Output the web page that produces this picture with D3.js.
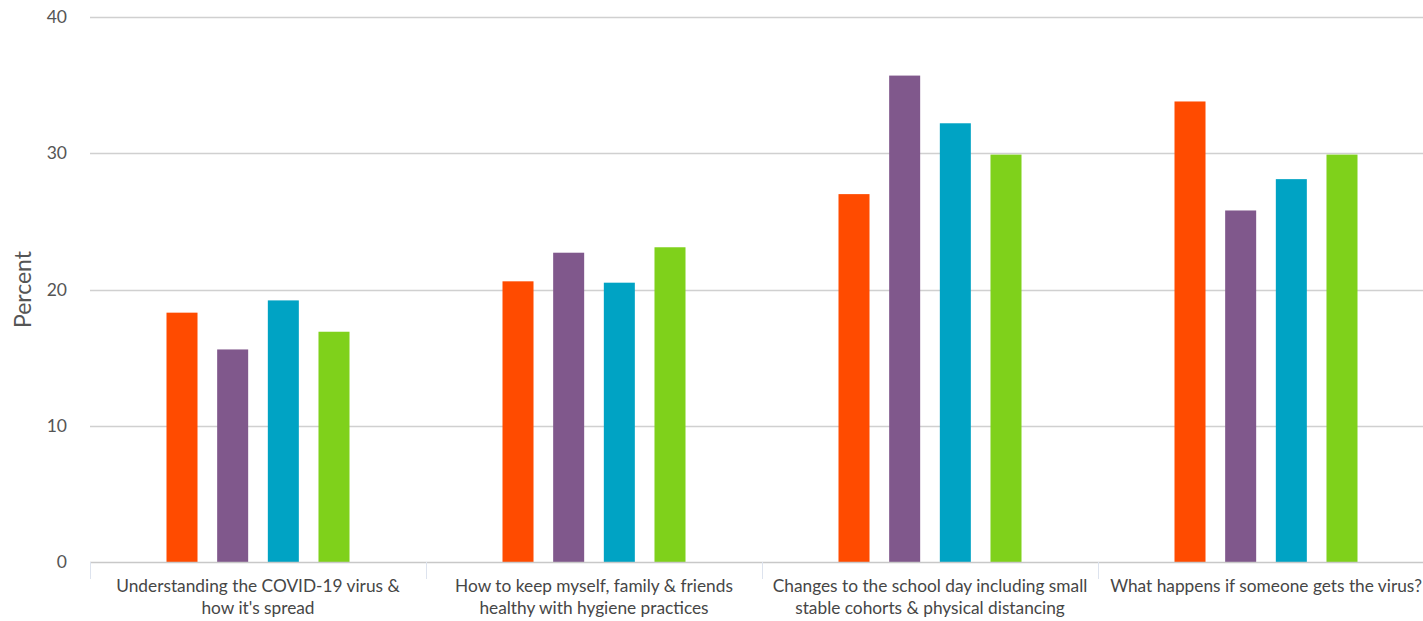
<!DOCTYPE html>
<html>
<head>
<meta charset="utf-8">
<script src="https://cdn.jsdelivr.net/npm/d3@7"></script>
<style>
  html, body { margin: 0; padding: 0; background: #fff; }
  svg { display: block; font-family: Lato, "Open Sans", sans-serif; }
</style>
</head>
<body>
<svg id="chart" width="1423" height="621"></svg>
<script>
const categories = [
  ["Understanding the COVID-19 virus &", "how it's spread"],
  ["How to keep myself, family & friends", "healthy with hygiene practices"],
  ["Changes to the school day including small", "stable cohorts & physical distancing"],
  ["What happens if someone gets the virus?"]
];
const seriesNames = ["Series A", "Series B", "Series C", "Series D"];
const seriesA = [18.3, 20.6, 27.0, 33.8];
const seriesB = [15.6, 22.7, 35.7, 25.8];
const seriesC = [19.2, 20.5, 32.2, 28.1];
const seriesD = [16.9, 23.1, 29.9, 29.9];
const seriesColors = ["#ff4b00", "#80588c", "#00a3c4", "#7fd11b"];
const yTicks = [0, 10, 20, 30, 40];
const yLabel = "Percent";

const allSeries = [seriesA, seriesB, seriesC, seriesD];
const svg = d3.select("#chart");
const margin = { left: 90, top: 17, bottom: 59 };
const H = 621;
const plotRight = 1434;

const x0 = d3.scaleBand().domain(d3.range(categories.length)).range([margin.left, plotRight]).padding(0);
const x1 = d3.scaleBand().domain(d3.range(seriesNames.length))
  .range([0, x0.bandwidth()]).paddingInner(0.388).paddingOuter(1.51);
const y = d3.scaleLinear().domain([0, 40]).range([H - margin.bottom, margin.top]);

// gridlines
svg.append("g").selectAll("line").data(yTicks.filter(d => d > 0)).join("line")
  .attr("x1", margin.left).attr("x2", 1423)
  .attr("y1", Math.round(0) + 0).attr("y1", d => Math.round(y(d)) + 0.5).attr("y2", d => Math.round(y(d)) + 0.5)
  .attr("stroke", "#d0d0d0").attr("stroke-width", 1.3);

// y tick labels
svg.append("g").selectAll("text").data(yTicks).join("text")
  .attr("x", 67).attr("y", d => y(d)).attr("dy", "0.35em")
  .attr("text-anchor", "end").attr("fill", "#555").attr("font-size", 17.5)
  .text(d => d);

// y label
svg.append("text")
  .attr("transform", `translate(31, ${(y(0) + y(40)) / 2}) rotate(-90)`)
  .attr("text-anchor", "middle").attr("fill", "#555").attr("font-size", 23)
  .text(yLabel);

// bars
const groups = svg.append("g").selectAll("g").data(categories).join("g")
  .attr("transform", (d, i) => `translate(${x0(i)},0)`);
groups.selectAll("rect").data((d, i) => allSeries.map((s, k) => ({ k, v: s[i] }))).join("rect")
  .attr("x", d => x1(d.k)).attr("width", x1.bandwidth())
  .attr("y", d => y(d.v)).attr("height", d => y(0) - y(d.v))
  .attr("fill", d => seriesColors[d.k]);

// x axis line
svg.append("line")
  .attr("x1", margin.left).attr("x2", 1423)
  .attr("y1", Math.round(y(0)) + 0.5).attr("y2", Math.round(y(0)) + 0.5)
  .attr("stroke", "#c8c8c8").attr("stroke-width", 1.3);

// band dividers
svg.append("g").selectAll("line").data(d3.range(categories.length)).join("line")
  .attr("x1", d => Math.round(x0(d)) + 0.5).attr("x2", d => Math.round(x0(d)) + 0.5)
  .attr("y1", y(0)).attr("y2", y(0) + 17)
  .attr("stroke", "#dde3ee").attr("stroke-width", 1);

// x labels
const xl = svg.append("g").selectAll("text").data(categories).join("text")
  .attr("text-anchor", "middle").attr("fill", "#464646").attr("font-size", 17.3)
  .attr("transform", (d, i) => `translate(${x0(i) + x0.bandwidth() / 2}, ${y(0) + 30})`);
xl.selectAll("tspan").data(d => d).join("tspan")
  .attr("x", 0).attr("dy", (d, j) => j === 0 ? 0 : 21.5).text(d => d);
</script>
</body>
</html>
